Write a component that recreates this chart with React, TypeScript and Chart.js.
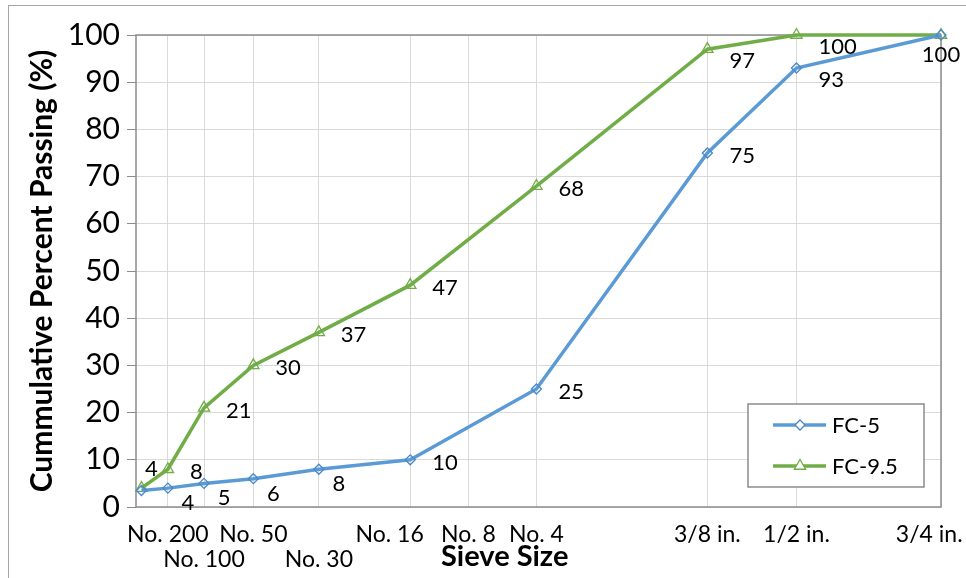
import React, { useEffect, useRef } from 'react';
import { Chart, registerables } from 'chart.js';

Chart.register(...registerables);

// ---- data ----
const sieveNames = ['No. 200', 'No. 100', 'No. 50', 'No. 30', 'No. 16', 'No. 8', 'No. 4', '3/8 in.', '1/2 in.', '3/4 in.'];
const sieveSizesMm = [0.075, 0.15, 0.3, 0.6, 1.18, 2.36, 4.75, 9.5, 12.7, 19];
const fc5Passing = [3.5, 4, 5, 6, 8, 10, 25, 75, 93, 100];
const fc95Passing = [4, 8, 21, 30, 37, 47, 68, 97, 100, 100];

// x-axis gridlines (sieve openings, mm) and the tick labels shown at them
const xGridSievesMm = [0.15, 0.3, 0.6, 1.18, 2.36, 3.35, 4.75, 9.5, 12.7, 19];
const xTickLabels: (string | string[])[] = [
  'No. 200', ['', 'No. 100'], 'No. 50', ['', 'No. 30'], 'No. 16       ',
  'No. 8', 'No. 4', '3/8 in.', '1/2 in.', '3/4 in.    ',
];
const xAxisMinMm = 0.063;
const xAxisMaxMm = 19;
const POWER = 0.45; // 0.45 power gradation chart
const yMin = 0;
const yMax = 100;
const yStep = 10;

// label placement keywords per point (style, not data)
const fc5LabelPlacement = ['none', 'belowRight', 'belowRight', 'belowRight', 'belowRight', 'right', 'right', 'right', 'rightLow', 'below'];
const fc95LabelPlacement = ['aboveRight', 'right', 'right', 'right', 'right', 'right', 'right', 'rightLow', 'rightLow', 'none'];

const FONT = 'Lato, "Open Sans", sans-serif';
const BLUE = '#5b9bd5';
const GREEN = '#70ad47';

const px = (mm: number) => Math.pow(mm, POWER);

function drawMarker(ctx: CanvasRenderingContext2D, style: string, x: number, y: number, r: number, stroke: string, fill: string) {
  ctx.save();
  ctx.beginPath();
  if (style === 'rectRot') {
    ctx.moveTo(x - r, y);
    ctx.lineTo(x, y - r);
    ctx.lineTo(x + r, y);
    ctx.lineTo(x, y + r);
  } else {
    const h = r * 1.5;
    const w = r * Math.sqrt(3) / 2;
    ctx.moveTo(x, y - r);
    ctx.lineTo(x + w, y - r + h);
    ctx.lineTo(x - w, y - r + h);
  }
  ctx.closePath();
  ctx.fillStyle = fill;
  ctx.fill();
  ctx.strokeStyle = stroke;
  ctx.lineWidth = 1.3;
  ctx.stroke();
  ctx.restore();
}

const framePlugin = {
  id: 'frame',
  beforeDatasetsDraw(chart: any) {
    const { ctx, chartArea: a } = chart;
    ctx.save();
    ctx.strokeStyle = '#8c8c8c';
    ctx.lineWidth = 1.5;
    ctx.strokeRect(a.left, a.top, a.right - a.left, a.bottom - a.top);
    ctx.restore();
  },
};

const dataLabelPlugin = {
  id: 'dataLabels',
  afterDatasetsDraw(chart: any) {
    const { ctx } = chart;
    ctx.save();
    ctx.font = `22px ${FONT}`;
    ctx.fillStyle = '#000';
    chart.data.datasets.forEach((ds: any, i: number) => {
      const meta = chart.getDatasetMeta(i);
      meta.data.forEach((pt: any, j: number) => {
        const place = ds.labelPlacement[j];
        if (place === 'none') return;
        const txt = String(Math.round(ds.data[j].y));
        const { x, y } = pt;
        ctx.textBaseline = 'middle';
        if (place === 'right') {
          ctx.textAlign = 'left';
          ctx.fillText(txt, x + 22, y + 3);
        } else if (place === 'rightLow') {
          ctx.textAlign = 'left';
          ctx.fillText(txt, x + 22, y + 12);
        } else if (place === 'belowRight') {
          ctx.textAlign = 'center';
          ctx.fillText(txt, x + 20, y + 15);
        } else if (place === 'below') {
          ctx.textAlign = 'center';
          ctx.fillText(txt, x, y + 20);
        } else if (place === 'aboveRight') {
          ctx.textAlign = 'center';
          ctx.fillText(txt, x + 10, y - 19);
        }
      });
    });
    ctx.restore();
  },
};

const legendPlugin = {
  id: 'boxLegend',
  afterDraw(chart: any) {
    const { ctx, chartArea: a } = chart;
    const right = a.right - 17;
    const bottom = a.bottom - 20;
    const w = 176;
    const h = 83;
    const left = right - w;
    const top = bottom - h;
    ctx.save();
    ctx.fillStyle = '#fff';
    ctx.fillRect(left, top, w, h);
    ctx.strokeStyle = '#8c8c8c';
    ctx.lineWidth = 1.5;
    ctx.strokeRect(left, top, w, h);
    chart.data.datasets.forEach((ds: any, i: number) => {
      const cy = top + 21 + i * 41;
      ctx.strokeStyle = ds.borderColor;
      ctx.lineWidth = 3.5;
      ctx.beginPath();
      ctx.moveTo(left + 25, cy);
      ctx.lineTo(left + 78, cy);
      ctx.stroke();
      drawMarker(ctx, ds.pointStyle, left + 52, cy, ds.pointRadius, ds.pointBorderColor, '#fff');
      ctx.fillStyle = '#000';
      ctx.font = `22px ${FONT}`;
      ctx.textAlign = 'left';
      ctx.textBaseline = 'middle';
      ctx.fillText(ds.label, left + 84, cy + 1);
    });
    ctx.restore();
  },
};

const xTitlePlugin = {
  id: 'xTitle',
  afterDraw(chart: any) {
    const { ctx, chartArea: a } = chart;
    ctx.save();
    ctx.font = `bold 29px ${FONT}`;
    ctx.fillStyle = '#000';
    ctx.textAlign = 'center';
    ctx.textBaseline = 'middle';
    ctx.fillText('Sieve Size', a.left + (a.right - a.left) * 0.458, chart.height - 21);
    ctx.restore();
  },
};

export default function App() {
  const ref = useRef<HTMLCanvasElement>(null);

  useEffect(() => {
    if (!ref.current) return;
    const fc5 = sieveSizesMm.map((d, i) => ({ x: px(d), y: fc5Passing[i] }));
    const fc95 = sieveSizesMm.map((d, i) => ({ x: px(d), y: fc95Passing[i] }));
    const chart = new Chart(ref.current, {
      type: 'line',
      data: {
        datasets: [
          {
            label: 'FC-5',
            data: fc5,
            borderColor: BLUE,
            borderWidth: 3.5,
            pointStyle: 'rectRot',
            pointRadius: 5,
            pointBorderColor: '#4a88c7',
            pointBackgroundColor: 'transparent',
            pointBorderWidth: 1.3,
            tension: 0,
            clip: false,
            labelPlacement: fc5LabelPlacement,
            sieveNames,
          } as any,
          {
            label: 'FC-9.5',
            data: fc95,
            borderColor: GREEN,
            borderWidth: 3.5,
            pointStyle: 'triangle',
            pointRadius: 6.5,
            pointBorderColor: GREEN,
            pointBackgroundColor: 'transparent',
            pointBorderWidth: 1.3,
            tension: 0,
            clip: false,
            labelPlacement: fc95LabelPlacement,
          } as any,
        ],
      },
      options: {
        animation: false,
        responsive: false,
        devicePixelRatio: 1,
        layout: { padding: { top: 35, right: 25, left: 0, bottom: 0 } },
        plugins: {
          legend: { display: false },
          tooltip: { enabled: false },
        },
        scales: {
          x: {
            type: 'linear',
            min: px(xAxisMinMm),
            max: px(xAxisMaxMm),
            afterBuildTicks: (s: any) => {
              s.ticks = xGridSievesMm.map((d) => ({ value: px(d) }));
            },
            afterFit: (s: any) => {
              s.height = 71;
              s.paddingLeft = 0;
              s.paddingRight = 0;
            },
            grid: { color: '#d9d9d9', lineWidth: 1, drawTicks: false },
            border: { display: false },
            ticks: {
              autoSkip: false,
              maxRotation: 0,
              minRotation: 0,
              padding: 16,
              color: '#000',
              font: { family: FONT, size: 23, lineHeight: 1.05 },
              callback: (_v: any, i: number) => xTickLabels[i],
            },
          },
          y: {
            min: yMin,
            max: yMax,
            afterFit: (s: any) => {
              s.width = 136;
              s.paddingTop = 0;
              s.paddingBottom = 0;
            },
            grid: { color: '#d9d9d9', tickColor: '#8c8c8c', tickLength: 9, lineWidth: 1 },
            border: { display: false },
            ticks: {
              stepSize: yStep,
              padding: 7,
              color: '#000',
              font: { family: FONT, size: 30 },
            },
            title: {
              display: true,
              text: 'Cummulative Percent Passing (%)',
              color: '#000',
              font: { family: FONT, size: 30, weight: 'bold' },
              padding: { top: 24, bottom: 0 },
            },
          },
        },
      },
      plugins: [framePlugin, dataLabelPlugin, legendPlugin, xTitlePlugin],
    });
    return () => chart.destroy();
  }, []);

  return (
    <div style={{ position: 'absolute', left: 0, top: 0, width: 966, height: 578, overflow: 'hidden', background: '#fff' }}>
      <div style={{ position: 'absolute', left: 8, top: 5, width: 1000, height: 1000, border: '1px solid #a6a6a6', boxSizing: 'border-box' }} />
      <canvas ref={ref} width={966} height={578} style={{ position: 'absolute', left: 0, top: 0, width: 966, height: 578 }} />
    </div>
  );
}
